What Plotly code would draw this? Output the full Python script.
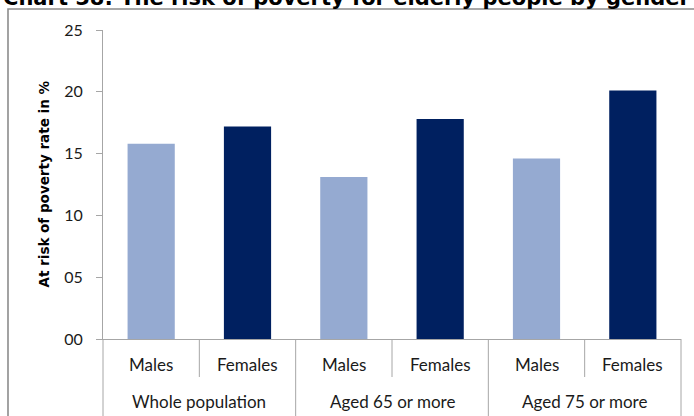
import plotly.graph_objects as go

# ---- data ----
groups = ["Whole population", "Aged 65 or more", "Aged 75 or more"]
sexes = ["Males", "Females"]
values = [15.8, 17.2, 13.1, 17.8, 14.6, 20.1]
bar_colors = ["#95AAD1", "#002060"]
y_tickvals = [0, 5, 10, 15, 20, 25]
y_ticktext = ["00", "05", "10", "15", "20", "25"]
title_text = "Chart 58: The risk of poverty for elderly people by gender"
y_title = "At risk of poverty rate in %"

W, H = 694, 416
ML, MR, MT, MB = 103, 13, 30, 77
PW, PH = W - ML - MR, H - MT - MB

n = len(groups) * len(sexes)
xs = list(range(n))
cols = [bar_colors[i % 2] for i in range(n)]

def py(p):  # pixel y -> paper y
    return (H - MB - p) / PH

def px(p):  # pixel x -> paper x
    return (p - ML) / PW

fig = go.Figure(go.Bar(x=xs, y=values, marker=dict(color=cols, line=dict(width=0)),
                       width=0.49, hoverinfo="skip"))

line_col = "#a6a6a6"
shapes = []
# outer separators (group boundaries)
for g in range(len(groups) + 1):
    xp = g * len(sexes) / n
    shapes.append(dict(type="line", xref="paper", yref="paper", x0=xp, x1=xp,
                       y0=0, y1=py(430), line=dict(color=line_col, width=1)))
# inner separators
for g in range(len(groups)):
    xp = (g * len(sexes) + 1) / n
    shapes.append(dict(type="line", xref="paper", yref="paper", x0=xp, x1=xp,
                       y0=0, y1=py(377), line=dict(color=line_col, width=1)))
# outer frame
shapes.append(dict(type="rect", xref="paper", yref="paper", x0=px(8), x1=px(720),
                   y0=py(440), y1=py(9), line=dict(color="#8c8c8c", width=1.6)))

ann = []
cat_font = dict(family="Lato, Open Sans, sans-serif", size=17, color="#1a1a1a")
for i in range(n):
    ann.append(dict(x=(i + 0.5) / n, y=py(364), xref="paper", yref="paper",
                    text=sexes[i % 2], showarrow=False, font=cat_font,
                    xanchor="center", yanchor="middle"))
for g, name in enumerate(groups):
    ann.append(dict(x=(g * len(sexes) + 1) / n, y=py(401), xref="paper", yref="paper",
                    text=name, showarrow=False, font=cat_font,
                    xanchor="center", yanchor="middle"))
ann.append(dict(x=px(43), y=py(184.5), xref="paper", yref="paper", text="<b>" + y_title + "</b>",
                textangle=-90, showarrow=False,
                font=dict(family="DejaVu Sans, Verdana, sans-serif", size=13.5, color="#000000"),
                xanchor="center", yanchor="middle"))
ann.append(dict(x=px(1), y=py(-2), xref="paper", yref="paper", text="<b>" + title_text + "</b>",
                showarrow=False,
                font=dict(family="DejaVu Sans, Verdana, sans-serif", size=21, color="#000000"),
                xanchor="left", yanchor="middle"))

fig.update_layout(
    width=W, height=H,
    margin=dict(l=ML, r=MR, t=MT, b=MB, pad=0),
    paper_bgcolor="white", plot_bgcolor="white",
    showlegend=False,
    shapes=shapes, annotations=ann,
    xaxis=dict(range=[-0.5, n - 0.5], showticklabels=False, ticks="", showgrid=False,
               zeroline=False, showline=True, linecolor=line_col, linewidth=1, fixedrange=True),
    yaxis=dict(range=[0, 25], tickvals=y_tickvals, ticktext=y_ticktext, ticks="outside",
               ticklen=6, tickcolor=line_col, showline=True, linecolor=line_col, linewidth=1,
               showgrid=False, zeroline=False, ticklabelstandoff=10,
               tickfont=dict(family="Lato, Open Sans, sans-serif", size=16, color="#1a1a1a")),
)

fig.write_html("out.html", config={"displayModeBar": False},
               post_script="document.body.style.margin='0';document.body.style.padding='0';")
